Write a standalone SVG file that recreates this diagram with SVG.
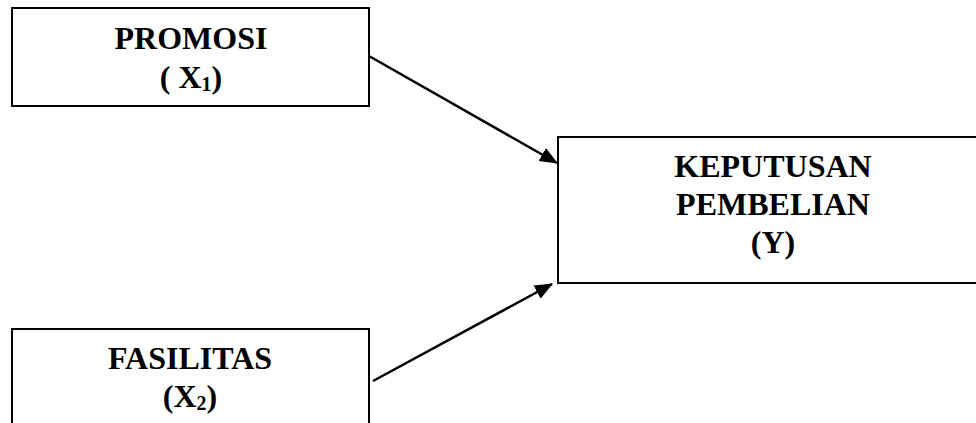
<svg xmlns="http://www.w3.org/2000/svg" width="976" height="423" viewBox="0 0 976 423">
<style>
.box{fill:#fff;stroke:#000;stroke-width:2}
.t{font-family:"Liberation Serif","Times New Roman",serif;font-weight:bold;font-size:32px;fill:#000;text-anchor:middle}
.sub{font-size:20px}
.conn{stroke:#000;stroke-width:2.5;fill:none}
</style>
<defs>
<marker id="ah" markerUnits="userSpaceOnUse" markerWidth="18" markerHeight="16" refX="17" refY="7.5" orient="auto" viewBox="0 0 18 15">
<path d="M0,0 L18,7.5 L0,15 z" fill="#000"/>
</marker>
</defs>
<g id="connectors">
<line class="conn" x1="369" y1="56" x2="557" y2="163" marker-end="url(#ah)"/>
<line class="conn" x1="373" y1="381" x2="552" y2="284" marker-end="url(#ah)"/>
</g>
<g id="promosi">
<rect class="box" x="12" y="8" width="357" height="98"/>
<text class="t" x="191" y="49">PROMOSI</text>
<text class="t" x="191" y="88">( X<tspan class="sub" dy="3">1</tspan><tspan dy="-3">)</tspan></text>
</g>
<g id="fasilitas">
<rect class="box" x="12" y="329" width="357" height="110"/>
<text class="t" x="190" y="369">FASILITAS</text>
<text class="t" x="190" y="407">(X<tspan class="sub" dy="3">2</tspan><tspan dy="-3">)</tspan></text>
</g>
<g id="keputusan">
<rect class="box" x="558" y="137" width="430" height="146"/>
<text class="t" x="773" y="177">KEPUTUSAN</text>
<text class="t" x="773" y="215">PEMBELIAN</text>
<text class="t" x="773" y="253">(Y)</text>
</g>
</svg>
